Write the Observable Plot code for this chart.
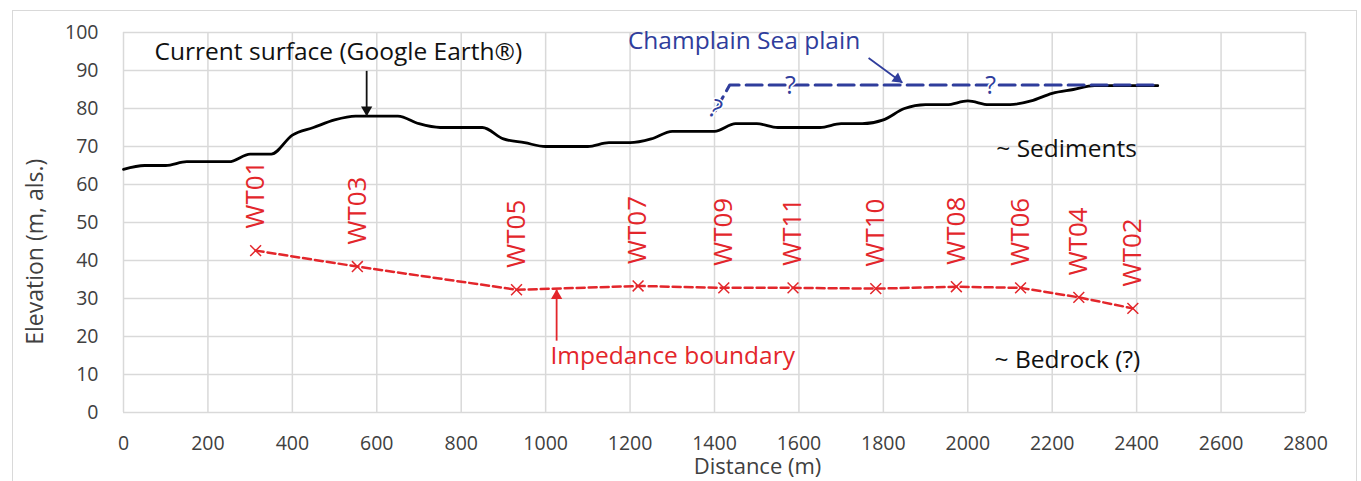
<!DOCTYPE html>
<html>
<head>
<meta charset="utf-8">
<script src="https://cdn.jsdelivr.net/npm/d3@7"></script>
<script src="https://cdn.jsdelivr.net/npm/@observablehq/plot@0.6"></script>
<style>
  html, body { margin: 0; padding: 0; background: #ffffff; }
  #wrap { position: relative; width: 1361px; height: 481px; overflow: hidden; }
  #frame { position: absolute; left: 12px; top: 10px; width: 1345px; height: 490px; border: 1.5px solid #d9d9d9; box-sizing: border-box; }
  #chart { position: absolute; left: 0; top: 0; }
</style>
</head>
<body>
<div id="wrap"><div id="frame"></div><div id="chart"></div></div>
<script>
// Ground surface profile (Google Earth)
const surfaceDistance = [0, 50, 100, 150, 200, 250, 300, 350, 400, 450, 500, 550, 600, 650, 700, 750, 800, 850, 900, 950, 1000, 1050, 1100, 1150, 1200, 1250, 1300, 1350, 1400, 1450, 1500, 1550, 1600, 1650, 1700, 1750, 1800, 1850, 1900, 1950, 2000, 2050, 2100, 2150, 2200, 2250, 2300, 2350, 2400, 2450];
const surfaceElevation = [64, 65, 65, 66, 66, 66, 68, 68, 73, 75, 77, 78, 78, 78, 76, 75, 75, 75, 72, 71, 70, 70, 70, 71, 71, 72, 74, 74, 74, 76, 76, 75, 75, 75, 76, 76, 77, 80, 81, 81, 82, 81, 81, 82, 84, 85, 86, 86, 86, 86];

// Impedance boundary at stations
const wellNames = ["WT01", "WT03", "WT05", "WT07", "WT09", "WT11", "WT10", "WT08", "WT06", "WT04", "WT02"];
const wellDistance = [313, 554, 931, 1219, 1422, 1586, 1782, 1973, 2125, 2263, 2391];
const wellElevation = [42.6, 38.4, 32.3, 33.3, 32.8, 32.8, 32.6, 33.1, 32.8, 30.3, 27.4];

// Champlain Sea plain (dashed)
const plainDistance = [1402, 1436, 2445];
const plainElevation = [79.4, 86.2, 86.2];
const plainQDistance = [1402, 1580, 2054];
const plainQElevation = [79.8, 86.0, 86.0];
const plainQRotate = [25, 0, 0];

// Tick values
const xTicks = [0, 200, 400, 600, 800, 1000, 1200, 1400, 1600, 1800, 2000, 2200, 2400, 2600, 2800];
const yTicks = [0, 10, 20, 30, 40, 50, 60, 70, 80, 90, 100];

// Axis titles
const xTitle = "Distance (m)";
const yTitle = "Elevation (m, als.)";
const xTitlePos = [1502, -14.4];
const yTitlePos = [-208, 42.3];

// Annotations
const noteText = ["Current surface (Google Earth®)", "Champlain Sea plain", "~ Sediments", "~ Bedrock (?)", "Impedance boundary"];
const noteX = [509, 1470, 2234, 2236, 1301];
const noteY = [94.7, 97.8, 69.4, 13.7, 14.7];
const noteColor = ["#111111", "#2f3d9c", "#111111", "#111111", "#e3262b"];

// Arrows (start -> tip)
const arrowX1 = [576, 1026, 1765];
const arrowY1 = [89.9, 18.9, 93.3];
const arrowX2 = [576, 1026, 1845];
const arrowY2 = [78.1, 32.3, 86.8];
const arrowColor = ["#111111", "#e3262b", "#2f3d9c"];
const arrowRotate = [180, 0, 126];
const arrowHeadDx = [0, 0, -5];
const arrowHeadDy = [-6, 6, -3.7];

const RED = "#e3262b";
const BLUE = "#2f3d9c";

const surface = surfaceDistance.map((d, i) => ({x: d, y: surfaceElevation[i]}));
const wells = wellNames.map((n, i) => ({name: n, x: wellDistance[i], y: wellElevation[i]}));
const plain = plainDistance.map((d, i) => ({x: d, y: plainElevation[i]}));
const plainQ = plainQDistance.map((d, i) => ({x: d, y: plainQElevation[i], r: plainQRotate[i]}));
const notes = noteText.map((t, i) => ({t, x: noteX[i], y: noteY[i], c: noteColor[i]}));
const arrows = arrowX1.map((d, i) => ({x1: d, y1: arrowY1[i], x2: arrowX2[i], y2: arrowY2[i], c: arrowColor[i], r: arrowRotate[i]}));

const chart = Plot.plot({
  width: 1361,
  height: 481,
  marginLeft: 123,
  marginRight: 56,
  marginTop: 32,
  marginBottom: 69,
  style: {fontFamily: "'Open Sans', sans-serif", fontSize: "19px", color: "#404040", background: "transparent", overflow: "visible"},
  x: {domain: [0, 2800], label: null},
  y: {domain: [0, 100], label: null},
  marks: [
    Plot.gridX(xTicks, {stroke: "#d9d9d9", strokeOpacity: 1, strokeWidth: 1.5}),
    Plot.gridY(yTicks, {stroke: "#d9d9d9", strokeOpacity: 1, strokeWidth: 1.5}),
    Plot.axisX(xTicks, {tickSize: 0, tickPadding: 24, fontSize: 19.5, fill: "#404040", tickFormat: d => String(d)}),
    Plot.axisY(yTicks, {tickSize: 0, tickPadding: 25, fontSize: 19.5, fill: "#404040", tickFormat: d => String(d)}),
    Plot.text([xTitle], {x: () => xTitlePos[0], y: () => xTitlePos[1], fontSize: 22, fill: "#404040", clip: false}),
    Plot.text([yTitle], {x: () => yTitlePos[0], y: () => yTitlePos[1], rotate: -90, fontSize: 23, fill: "#404040", clip: false}),
    // Surface
    Plot.line(surface, {x: "x", y: "y", stroke: "#000000", strokeWidth: 2.8, curve: "monotone-x"}),
    // Champlain Sea plain
    Plot.line(plain, {x: "x", y: "y", stroke: BLUE, strokeWidth: 3, strokeDasharray: "16,7"}),
    Plot.text(plainQ, {x: "x", y: "y", text: () => "?", rotate: "r", fill: BLUE, fontSize: 25, stroke: "#ffffff", strokeWidth: 3, paintOrder: "stroke"}),
    // Impedance boundary
    Plot.line(wells, {x: "x", y: "y", stroke: RED, strokeWidth: 2.5, strokeDasharray: "8,4"}),
    Plot.dot(wells, {x: "x", y: "y", symbol: "times", r: 5, stroke: RED, strokeWidth: 1.5}),
    Plot.text(wells, {x: "x", y: "y", text: "name", rotate: -90, textAnchor: "start", dy: -22, fontSize: 26, fill: RED}),
    // Arrows
    Plot.link(arrows, {x1: "x1", y1: "y1", x2: "x2", y2: "y2", stroke: "c", strokeWidth: 1.8}),
    ...arrows.map((a, i) => Plot.dot([a], {x: "x2", y: "y2", symbol: "triangle", r: 4.2, fill: "c", rotate: "r", dx: arrowHeadDx[i], dy: arrowHeadDy[i]})),
    // Notes
    Plot.text(notes, {x: "x", y: "y", text: "t", fill: "c", fontSize: 24.5})
  ]
});
document.getElementById("chart").appendChild(chart);
</script>
</body>
</html>
